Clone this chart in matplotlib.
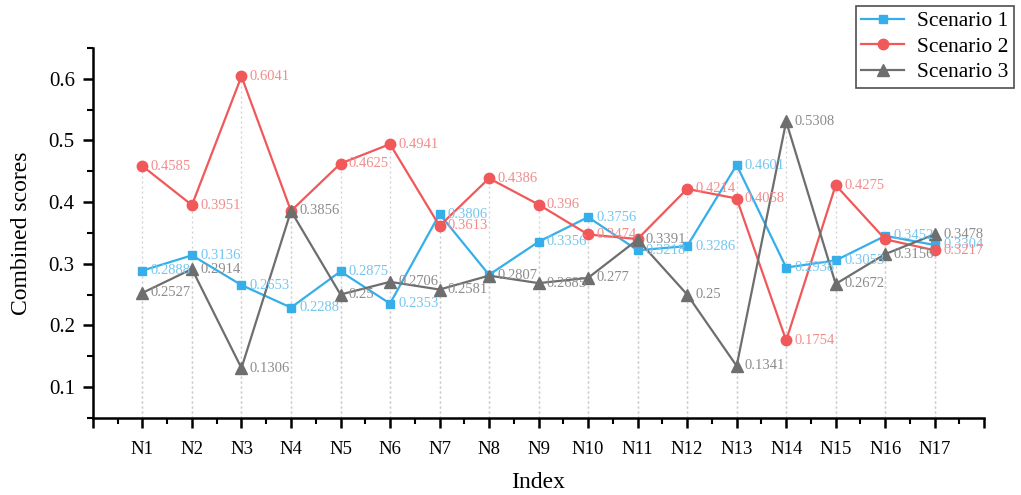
import matplotlib
matplotlib.use("Agg")
import matplotlib.pyplot as plt
from matplotlib.ticker import MultipleLocator, FixedLocator

categories = ["N1", "N2", "N3", "N4", "N5", "N6", "N7", "N8", "N9", "N10",
              "N11", "N12", "N13", "N14", "N15", "N16", "N17"]
scenario1 = [0.2888, 0.3136, 0.2653, 0.2288, 0.2875, 0.2353, 0.3806, 0.2820, 0.3356,
             0.3756, 0.3218, 0.3286, 0.4601, 0.2938, 0.3053, 0.3452, 0.3304]
scenario2 = [0.4585, 0.3951, 0.6041, 0.3856, 0.4625, 0.4941, 0.3613, 0.4386, 0.396,
             0.3474, 0.3400, 0.4214, 0.4058, 0.1754, 0.4275, 0.3396, 0.3217]
scenario3 = [0.2527, 0.2914, 0.1306, 0.3856, 0.25, 0.2706, 0.2581, 0.2807, 0.2685,
             0.277, 0.3391, 0.25, 0.1341, 0.5308, 0.2672, 0.3156, 0.3478]
series_names = ["Scenario 1", "Scenario 2", "Scenario 3"]
# labels that are covered by other marks in the reference (category indices)
hidden_labels = [[7], [3, 10, 15], []]

plt.rcParams['font.family'] = ['Liberation Serif', 'DejaVu Serif']

fig = plt.figure(figsize=(10.21, 4.95), dpi=100)
ax = fig.add_axes([0.091, 0.156, 0.873, 0.747])

x = list(range(1, len(categories) + 1))
ymin, ymax = 0.05, 0.65

styles = [
    (scenario1, "#36aeea", "#74c6ef", "s", 6),
    (scenario2, "#f0585a", "#f28c8c", "o", 7.5),
    (scenario3, "#6e6e6e", "#8c8c8c", "^", 8.5),
]

# drop lines
for vals, c, lc, m, ms in styles:
    ax.vlines(x, ymin, vals, colors="#cfcfcf", linestyles=(0, (1.5, 2.5)), linewidth=0.9, zorder=1)

handles = []
for (vals, c, lc, m, ms), name, hid in zip(styles, series_names, hidden_labels):
    h, = ax.plot(x, vals, color=c, marker=m, markersize=ms, linewidth=1.6, label=name, zorder=3)
    handles.append(h)
    for i, (xi, v) in enumerate(zip(x, vals)):
        if i in hid:
            continue
        ax.annotate(f"{v:g}", (xi, v), xytext=(6, 0), textcoords="offset points",
                    ha="left", va="center", fontsize=10.5, color=lc, zorder=4)

ax.set_xlim(0, 18)
ax.set_ylim(ymin, ymax)
ax.xaxis.set_major_locator(FixedLocator(list(range(0, 19))))
ax.set_xticklabels([""] + categories + [""])
ax.xaxis.set_minor_locator(MultipleLocator(0.5))
ax.set_yticks([0.1, 0.2, 0.3, 0.4, 0.5, 0.6])
ax.set_yticklabels(["0.1", "0.2", "0.3", "0.4", "0.5", "0.6"])
ax.yaxis.set_minor_locator(MultipleLocator(0.05))

for s in ["top", "right"]:
    ax.spines[s].set_visible(False)
for s in ["left", "bottom"]:
    ax.spines[s].set_linewidth(1.8)

ax.tick_params(axis="both", which="major", direction="out", length=7, width=1.8, labelsize=15)
ax.tick_params(axis="both", which="minor", direction="out", length=4, width=1.5)
ax.tick_params(axis="y", which="major", pad=6)
ax.tick_params(axis="x", which="major", pad=10, labelsize=13.5)

ax.set_xlabel("Index", fontsize=17, labelpad=10)
ax.set_ylabel("Combined scores", fontsize=17, labelpad=12)

leg = fig.legend(handles=handles, loc="upper right", bbox_to_anchor=(0.993, 0.988),
                 fontsize=15.5, frameon=True, fancybox=False, edgecolor="#222222",
                 handlelength=2.0, borderpad=0.25, labelspacing=0.25, handletextpad=0.6,
                 borderaxespad=0.0)
leg.get_frame().set_linewidth(1.2)

fig.savefig("out.png", dpi=100)
